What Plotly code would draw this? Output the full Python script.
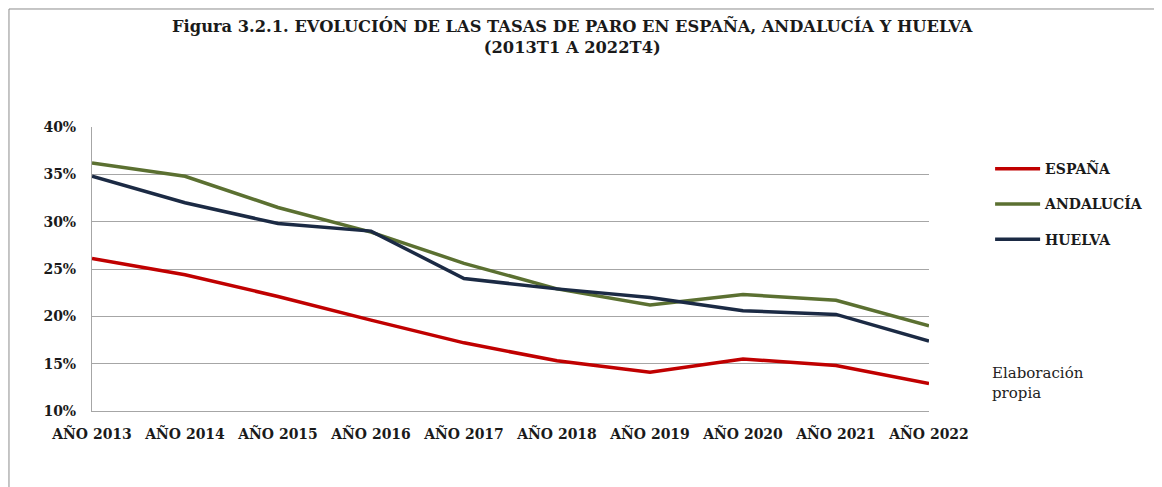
import plotly.graph_objects as go

years = ["AÑO 2013", "AÑO 2014", "AÑO 2015", "AÑO 2016", "AÑO 2017",
         "AÑO 2018", "AÑO 2019", "AÑO 2020", "AÑO 2021", "AÑO 2022"]
espana = [26.1, 24.4, 22.1, 19.6, 17.2, 15.3, 14.1, 15.5, 14.8, 12.9]
andalucia = [36.2, 34.8, 31.5, 28.9, 25.6, 22.9, 21.2, 22.3, 21.7, 19.0]
huelva = [34.8, 32.0, 29.8, 29.0, 24.0, 22.9, 22.0, 20.6, 20.2, 17.4]
series_names = ["ESPAÑA", "ANDALUCÍA", "HUELVA"]
colors = ["#C00000", "#5B7031", "#1B2A44"]

FONT = "DejaVu Serif"
TXT = "#1a1a1a"
fig = go.Figure()
for i, (name, vals) in enumerate(zip(series_names, [espana, andalucia, huelva])):
    fig.add_trace(go.Scatter(
        x=years, y=vals, mode="lines", name=name, legendgroup=name,
        line=dict(color=colors[i], width=3.5),
    ))

grid = "#A6A6A6"
fig.update_layout(
    width=1154, height=479,
    margin=dict(l=84, r=233, t=119, b=76),
    paper_bgcolor="white", plot_bgcolor="white",
    font=dict(family=FONT, color=TXT),
    xaxis=dict(
        type="category", range=[0, 9], showgrid=False,
        showline=True, linecolor=grid, linewidth=1,
        ticks="", ticklabelstandoff=10,
        tickfont=dict(family=FONT, size=14, color=TXT, weight="bold"),
    ),
    yaxis=dict(
        range=[10, 40], dtick=5, ticksuffix="%",
        showgrid=True, gridcolor=grid, gridwidth=1,
        showline=True, linecolor=grid, linewidth=1,
        zeroline=False, ticks="", ticklabelstandoff=12,
        tickfont=dict(family=FONT, size=14, color=TXT, weight="bold"),
    ),
    legend=dict(
        x=1.073, y=0.908, xanchor="left", yanchor="top",
        font=dict(family=FONT, size=14, color=TXT, weight="bold"),
        tracegroupgap=14, itemwidth=45, bgcolor="rgba(0,0,0,0)",
    ),
    showlegend=True,
)

fig.add_annotation(
    text="<b>Figura 3.2.1. EVOLUCIÓN DE LAS TASAS DE PARO EN ESPAÑA, ANDALUCÍA Y HUELVA<br>(2013T1 A 2022T4)</b>",
    xref="paper", yref="paper", x=0.5735, y=1.3204,
    xanchor="center", yanchor="middle", align="center", showarrow=False,
    font=dict(family=FONT, size=16.3, color=TXT),
)

fig.add_annotation(
    text="Elaboración<br>propia", xref="paper", yref="paper",
    x=1.0729, y=0.0986, xanchor="left", yanchor="middle", align="left",
    showarrow=False, font=dict(family=FONT, size=15, color="#222222"),
)

# outer frame of the figure (only left and top edges visible)
fig.add_shape(type="rect", xref="paper", yref="paper",
              x0=-0.0992, x1=2.0, y0=-2.0, y1=1.4155,
              line=dict(color="#8c8c8c", width=1), layer="below")

fig.write_html("out.html")
